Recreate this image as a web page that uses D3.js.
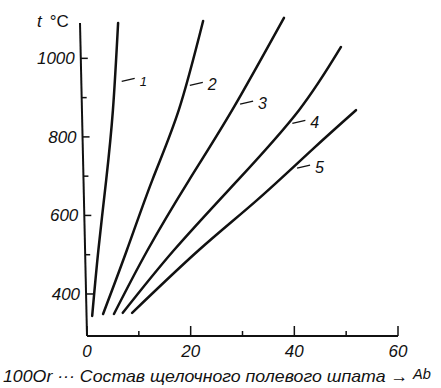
<!DOCTYPE html>
<html>
<head>
<meta charset="utf-8">
<script src="https://cdn.jsdelivr.net/npm/d3@7"></script>
<style>
  body { margin: 0; background: #fff; }
  svg { display: block; }
  text { font-family: "Liberation Sans", Arial, sans-serif; font-style: italic; fill: #111; }
</style>
</head>
<body>
<figure id="chart" style="margin:0"></figure>
<script>
// composition ticks (wt. % Ab) and temperature ticks (°C)
const compTicks = [0, 20, 40, 60];
const compMinor = [10, 30, 50];
const tempTicks = [400, 600, 800, 1000];
const tempMinor = [500, 700, 900];

// curves: [Ab, t°C]
const curve1 = [[1.0, 344], [2.2, 512], [3.7, 690], [5.0, 868], [6.0, 1090]];
const curve2 = [[3.1, 349], [7.7, 512], [12.6, 690], [17.7, 868], [22.4, 1095]];
const curve3 = [[5.2, 349], [11.7, 512], [19.7, 690], [28.0, 868], [38.0, 1103]];
const curve4 = [[6.9, 352], [16.8, 512], [29.1, 690], [40.9, 868], [49.0, 1029]];
const curve5 = [[8.7, 352], [21.6, 512], [32.8, 639], [43.4, 767], [51.9, 868]];
const curves = [curve1, curve2, curve3, curve4, curve5];
const curveNames = ["1", "2", "3", "4", "5"];
const labelTemps = [944, 934, 886, 837, 723];

const width = 441, height = 388;

const svg = d3.select("#chart").append("svg")
  .attr("width", width)
  .attr("height", height);

const x = d3.scaleLinear().domain([0, 60]).range([87, 398]);
const y = d3.scaleLinear().domain([293, 1090]).range([336, 23]);
// the scanned y axis leans a little
const axisX = d3.scaleLinear().domain([293, 1090]).range([87, 80]);

// y axis line
svg.append("line")
  .attr("x1", axisX(293)).attr("y1", y(293))
  .attr("x2", axisX(1090)).attr("y2", y(1090))
  .attr("stroke", "#111").attr("stroke-width", 2);

// y ticks
svg.selectAll(".ytick")
  .data(tempTicks.map(t => ({ t, len: 7 })).concat(tempMinor.map(t => ({ t, len: 5 }))))
  .enter().append("line")
  .attr("x1", d => axisX(d.t)).attr("x2", d => axisX(d.t) + d.len)
  .attr("y1", d => y(d.t)).attr("y2", d => y(d.t))
  .attr("stroke", "#111").attr("stroke-width", 1.5);

svg.selectAll(".ylab")
  .data(tempTicks)
  .enter().append("text")
  .attr("x", d => axisX(d) - 6)
  .attr("y", d => y(d) + 6)
  .attr("text-anchor", "end")
  .style("font-size", "17px")
  .text(d => d);

// x axis line
svg.append("line")
  .attr("x1", x(0)).attr("x2", x(60))
  .attr("y1", y(293)).attr("y2", y(293))
  .attr("stroke", "#111").attr("stroke-width", 2);

svg.selectAll(".xtick")
  .data(compTicks.map(v => ({ v, len: 10 })).concat(compMinor.map(v => ({ v, len: 5 }))))
  .enter().append("line")
  .attr("x1", d => x(d.v)).attr("x2", d => x(d.v))
  .attr("y1", y(293)).attr("y2", d => y(293) - d.len)
  .attr("stroke", "#111").attr("stroke-width", 1.5);

svg.selectAll(".xlab")
  .data(compTicks)
  .enter().append("text")
  .attr("x", d => x(d))
  .attr("y", 357)
  .attr("text-anchor", "middle")
  .style("font-size", "17px")
  .text(d => d);

// axis titles
const yt = svg.append("text").attr("x", 37).attr("y", 27).style("font-size", "17px");
yt.append("tspan").text("t");
yt.append("tspan").attr("dx", 8).style("font-style", "normal").text("°C");

const title = svg.append("text")
  .attr("x", 3).attr("y", 382)
  .attr("textLength", 428)
  .attr("lengthAdjust", "spacingAndGlyphs")
  .style("font-size", "17px");
title.append("tspan").text("100Or ··· Состав щелочного полевого шпата → ");
title.append("tspan").style("font-size", "14px").attr("dy", -3).text("Ab");

// curves
const line = d3.line()
  .x(d => x(d[0]))
  .y(d => y(d[1]))
  .curve(d3.curveNatural);

svg.selectAll(".curve")
  .data(curves)
  .enter().append("path")
  .attr("d", line)
  .attr("fill", "none")
  .attr("stroke", "#111")
  .attr("stroke-width", 2.5)
  .attr("stroke-linecap", "round");

// curve labels with short leaders
curves.forEach((c, i) => {
  const at = d3.scaleLinear().domain(c.map(d => d[1])).range(c.map(d => d[0]));
  const t = labelTemps[i];
  const gap = i == 0 ? 7 : 4;
  const px = x(at(t)), py = y(t);
  svg.append("line")
    .attr("x1", px + gap).attr("y1", py + 1)
    .attr("x2", px + gap + 13).attr("y2", py - 2)
    .attr("stroke", "#111").attr("stroke-width", 1.3);
  svg.append("text")
    .attr("x", px + gap + 18).attr("y", py + 6)
    .style("font-size", i == 0 ? "13px" : "16px")
    .text(curveNames[i]);
});
</script>
</body>
</html>
